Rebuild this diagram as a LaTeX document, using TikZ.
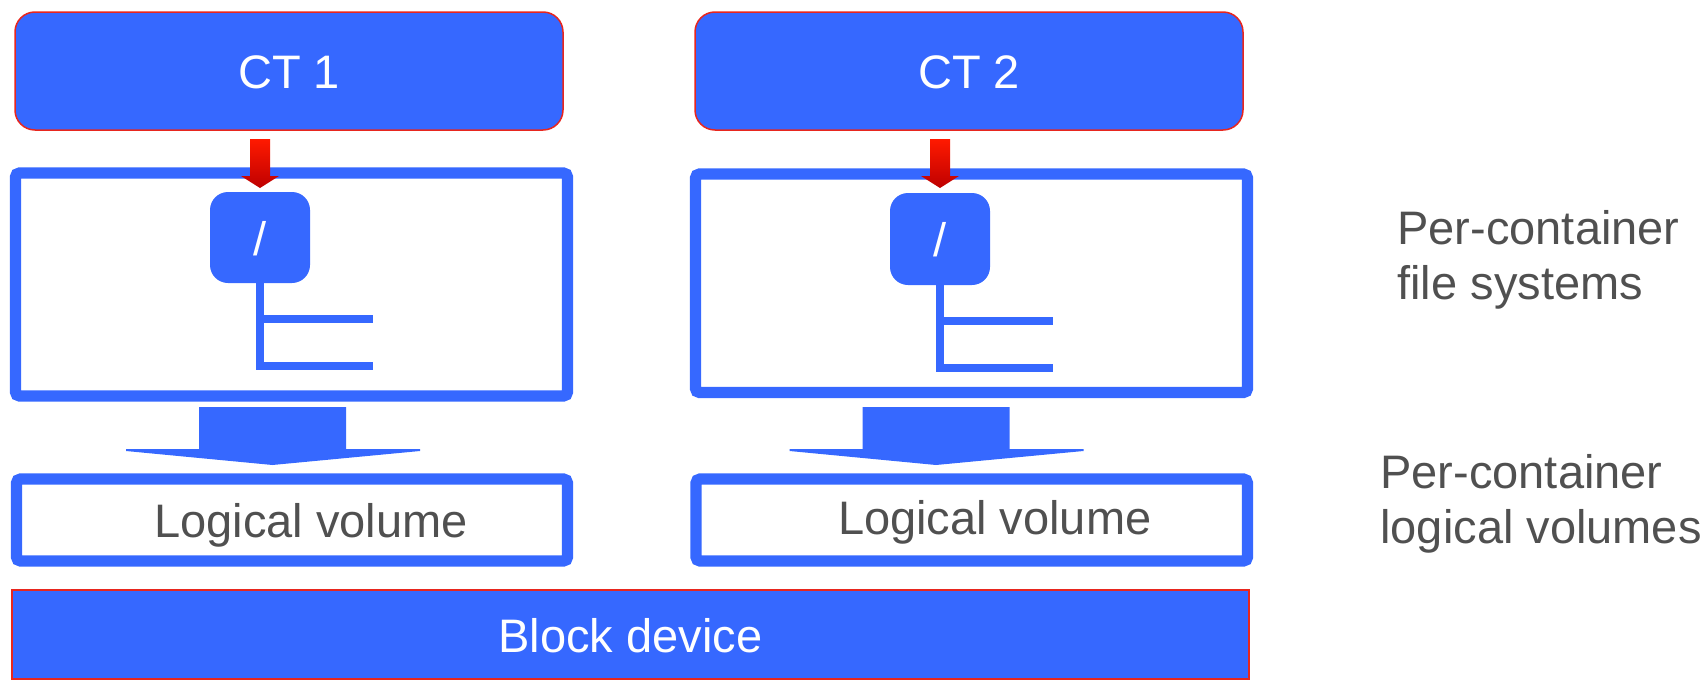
\documentclass[tikz,border=0pt]{standalone}
\usepackage{fontspec}
\setmainfont{Liberation Sans}
\usetikzlibrary{fit,calc}

\definecolor{boxblue}{HTML}{3668FF}
\definecolor{edgered}{HTML}{E8261E}
\definecolor{labelgray}{HTML}{505050}
\definecolor{arrowtop}{HTML}{FF1A00}
\definecolor{arrowbot}{HTML}{BE0000}

\tikzset{
  big/.style={font=\fontsize{23.5pt}{27.5pt}\selectfont},
  ctbox/.style={fill=boxblue, draw=edgered, line width=0.75pt, rounded corners=10pt,
                inner sep=0pt, outer sep=0pt},
  fsbox/.style={draw=boxblue, line width=5.6pt, rounded corners=2pt, inner sep=0pt, outer sep=0pt},
  rootbox/.style={fill=boxblue, rounded corners=9pt, inner sep=0pt, outer sep=0pt},
  devbox/.style={fill=boxblue, draw=edgered, line width=0.75pt, inner sep=0pt, outer sep=0pt},
  treeline/.style={draw=boxblue, line width=4pt},
  whitelabel/.style={big, text=white, inner sep=0pt, anchor=base},
  lvlabel/.style={big, text=labelgray, inner sep=0pt, anchor=base},
  sidelabel/.style={big, text=labelgray, inner sep=0pt, align=left, anchor=base west},
  pushdown/.pic={
    \shade[top color=arrowtop, bottom color=arrowbot]
      (-10,0) -- (10,0) -- (10,37) -- (19,37) -- (0,49) -- (-19,37) -- (-10,37) -- cycle;
  },
  stand/.pic={
    \fill[boxblue]
      (-73.5,0) -- (73.5,0) -- (73.5,42) -- (147.5,42) -- (147.5,44) -- (0,58)
      -- (-146.5,44) -- (-146.5,42) -- (-73.5,42) -- cycle;
  }
}

\begin{document}
\begin{tikzpicture}[x=0.5pt,y=-0.5pt]
\useasboundingbox (0,0) rectangle (1707,680);

% containers
\node[ctbox, fit={(15,12) (563,130)}] (ct1) {};
\node[ctbox, fit={(695,12) (1243,130)}] (ct2) {};
\node[whitelabel] (ct1t) at ($(ct1.center)+(0,17)$) {CT 1};
\node[whitelabel] (ct2t) at ($(ct2.center)+(0,17)$) {CT 2};

% per-container file systems
\node[fsbox, fit={(15.5,173) (567.5,396)}] (fs1) {};
\node[fsbox, fit={(695.5,174) (1247.5,392.5)}] (fs2) {};

% root directories
\node[rootbox, fit={(210,192) (310,283)}] (root1) {};
\node[rootbox, fit={(890,193) (990,285)}] (root2) {};
\node[whitelabel] (root1t) at ($(root1.center)+(0,17.5)$) {/};
\node[whitelabel] (root2t) at ($(root2.center)+(0,17.5)$) {/};

% directory trees
\coordinate (t1a) at ($(root1.south)+(113,36)$);
\coordinate (t1b) at ($(root1.south)+(113,83)$);
\draw[treeline] (root1.south) |- (t1b);
\draw[treeline] (root1.south |- t1a) -- (t1a);
\coordinate (t2a) at ($(root2.south)+(113,36)$);
\coordinate (t2b) at ($(root2.south)+(113,82.5)$);
\draw[treeline] (root2.south) |- (t2b);
\draw[treeline] (root2.south |- t2a) -- (t2a);

% mount arrows
\pic at ($(ct1.south -| root1.north)+(0,9)$) {pushdown};
\pic at ($(ct2.south -| root2.north)+(0,9)$) {pushdown};

% per-container logical volumes
\node[fsbox, fit={(16.5,479) (567.5,561)}] (lv1) {};
\node[fsbox, fit={(696,479) (1247.5,561)}] (lv2) {};
\node[lvlabel] (lvt1) at ($(lv1.center)+(19,17)$) {Logical volume};
\node[lvlabel] (lvt2) at ($(lv2.center)+(23,14)$) {Logical volume};

% file system to volume arrows
\pic at ($(fs1.south)+(-19,11)$) {stand};
\pic at ($(fs2.south)+(-35.5,14.5)$) {stand};

% shared block device
\node[devbox, fit={(12,590) (1249,679)}] (dev) {};
\node[whitelabel] (devt) at ($(dev.center)+(0,17.5)$) {Block device};

% layer captions (anchored at the baseline of the last line)
\node[sidelabel] (capfs) at (1397,299) {Per-container\\file systems};
\node[sidelabel] (caplv) at (1380,543) {Per-container\\logical volumes};
\end{tikzpicture}
\end{document}
